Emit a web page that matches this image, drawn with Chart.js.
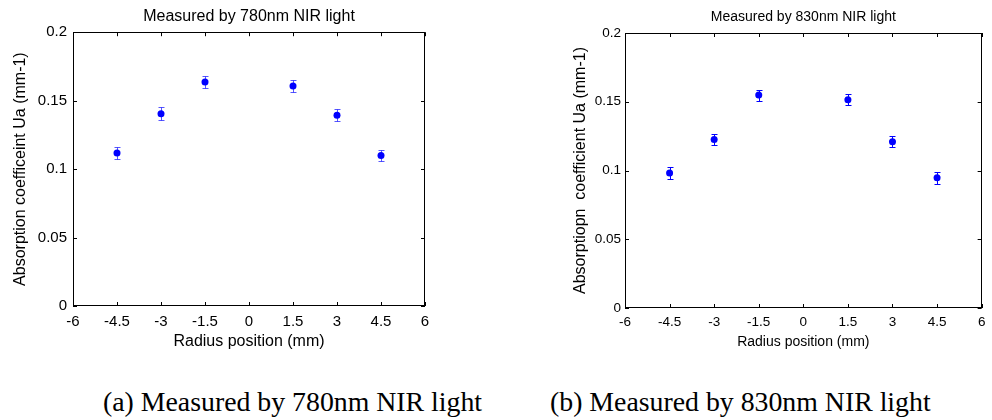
<!DOCTYPE html>
<html><head><meta charset="utf-8">
<script src="https://cdn.jsdelivr.net/npm/chart.js@4"></script>
<style>
html,body{margin:0;padding:0;background:#fff;width:992px;height:420px;overflow:hidden;position:relative}
canvas{position:absolute;top:0}
#c1{left:0}
#c2{left:496px}
.cap{position:absolute;top:388px;font-family:'Liberation Serif','Times New Roman',serif;font-size:27.8px;line-height:28px;color:#000;white-space:nowrap}
</style></head><body>
<canvas id="c1" width="480" height="360"></canvas>
<canvas id="c2" width="496" height="360"></canvas>
<div class="cap" style="left:103px">(a) Measured by 780nm NIR light</div>
<div class="cap" style="left:550px">(b) Measured by 830nm NIR light</div>
<script>
// ---- data ----
const positions = [-4.5, -3, -1.5, 1.5, 3, 4.5];
const ua780 = [0.1117, 0.1405, 0.1636, 0.1607, 0.1393, 0.1100];
const err780 = [0.0043, 0.0046, 0.0047, 0.0047, 0.0043, 0.0038];
const ua830 = [0.0982, 0.1226, 0.1549, 0.1515, 0.1210, 0.0948];
const err830 = [0.0045, 0.0041, 0.0040, 0.0040, 0.0038, 0.0044];
const xTicks = [-6, -4.5, -3, -1.5, 0, 1.5, 3, 4.5, 6];
const yTicks = [0, 0.05, 0.1, 0.15, 0.2];
const title780 = 'Measured by 780nm NIR light';
const title830 = 'Measured by 830nm NIR light';
const xLabel = 'Radius position (mm)';
const yLabel780 = 'Absorption coefficeint Ua (mm-1)';
const yLabel830 = 'Absorptiopn  coefficient Ua (mm-1)';

const SANS = "'Liberation Sans', Arial, Helvetica, sans-serif";

function makePlugin(errs, barColor) {
  return {
    id: 'frameErr',
    beforeDatasetsDraw(chart) {
      const {ctx, scales: {x, y}} = chart;
      const ds = chart.data.datasets[0];
      ctx.save();
      ctx.strokeStyle = barColor;
      ctx.lineWidth = 1;
      ds.data.forEach((p, i) => {
        const px = Math.round(x.getPixelForValue(p.x)) + 0.5;
        const yt = Math.round(y.getPixelForValue(p.y + errs[i])) + 0.5;
        const yb = Math.round(y.getPixelForValue(p.y - errs[i])) + 0.5;
        ctx.beginPath();
        ctx.moveTo(px, yt); ctx.lineTo(px, yb);
        ctx.moveTo(px - 3, yt); ctx.lineTo(px + 3, yt);
        ctx.moveTo(px - 3, yb); ctx.lineTo(px + 3, yb);
        ctx.stroke();
      });
      ctx.restore();
    },
    afterDraw(chart) {
      const {ctx, chartArea: a, scales: {x, y}} = chart;
      ctx.save();
      ctx.strokeStyle = '#000';
      ctx.lineWidth = 1;
      ctx.strokeRect(Math.round(a.left) + 0.5, Math.round(a.top) + 0.5,
                     Math.round(a.right - a.left) - 1, Math.round(a.bottom - a.top) - 1);
      const tl = 4;
      ctx.beginPath();
      xTicks.forEach(v => {
        const px = Math.round(x.getPixelForValue(v)) + 0.5;
        ctx.moveTo(px, a.bottom); ctx.lineTo(px, a.bottom - tl);
        ctx.moveTo(px, a.top); ctx.lineTo(px, a.top + tl);
      });
      yTicks.forEach(v => {
        const py = Math.round(y.getPixelForValue(v)) + 0.5;
        ctx.moveTo(a.left, py); ctx.lineTo(a.left + tl, py);
        ctx.moveTo(a.right, py); ctx.lineTo(a.right - tl, py);
      });
      ctx.stroke();
      ctx.restore();
    }
  };
}

function makeChart(id, vals, errs, barColor, cfg) {
  return new Chart(document.getElementById(id), {
    type: 'scatter',
    data: {
      datasets: [{
        data: positions.map((p, i) => ({x: p, y: vals[i]})),
        backgroundColor: '#0000ff',
        borderWidth: 0,
        pointRadius: 3.5,
        pointHoverRadius: 3.5,
        showLine: false
      }]
    },
    options: {
      responsive: false,
      animation: false,
      events: [],
      layout: {padding: cfg.layoutPad},
      plugins: {
        legend: {display: false},
        tooltip: {enabled: false},
        title: {
          display: true,
          text: cfg.title,
          fullSize: false,
          color: '#000',
          font: {family: SANS, size: cfg.titleSize, weight: 'normal'},
          padding: cfg.titlePad
        }
      },
      scales: {
        x: {
          type: 'linear',
          min: -6, max: 6,
          afterBuildTicks: s => { s.ticks = xTicks.map(v => ({value: v})); },
          afterFit: s => { s.height = cfg.xHeight; },
          grid: {display: false, drawTicks: false},
          border: {display: false},
          ticks: {
            color: '#000', padding: cfg.xTickPad, maxRotation: 0, autoSkip: false,
            font: {family: SANS, size: cfg.tickSize},
            callback: v => String(v)
          },
          title: {
            display: true, text: xLabel, color: '#000',
            font: {family: SANS, size: cfg.xLabelSize},
            padding: {top: 0, bottom: cfg.xTitlePadB}
          }
        },
        y: {
          type: 'linear',
          min: 0, max: 0.2,
          afterBuildTicks: s => { s.ticks = yTicks.map(v => ({value: v})); },
          afterFit: s => { s.width = cfg.yWidth; },
          grid: {display: false, drawTicks: false},
          border: {display: false},
          ticks: {
            color: '#000', padding: cfg.yTickPad,
            font: {family: SANS, size: cfg.tickSize},
            callback: v => String(v)
          },
          title: {
            display: true, text: cfg.yLabel, color: '#000',
            font: {family: SANS, size: 16},
            padding: {top: cfg.yTitlePadT, bottom: 0}
          }
        }
      }
    },
    plugins: [makePlugin(errs, barColor)]
  });
}

makeChart('c1', ua780, err780, 'rgba(30,30,255,0.75)', {
  title: title780, yLabel: yLabel780,
  titleSize: 16, tickSize: 15, xLabelSize: 16,
  layoutPad: {left: 0, right: 55, top: 0, bottom: 4},
  titlePad: {top: 7, bottom: 6},
  xHeight: 50, yWidth: 73,
  xTickPad: 7, yTickPad: 6,
  xTitlePadB: 4.4, yTitlePadT: 11.4
});

makeChart('c2', ua830, err830, '#0000ff', {
  title: title830, yLabel: yLabel830,
  titleSize: 14, tickSize: 13.5, xLabelSize: 14,
  layoutPad: {left: 0, right: 7, top: 0, bottom: 2},
  titlePad: {top: 8.9, bottom: 7.3},
  xHeight: 50, yWidth: 129,
  xTickPad: 6.6, yTickPad: 4,
  xTitlePadB: 7.6, yTitlePadT: 75.4
});
</script>
</body></html>
